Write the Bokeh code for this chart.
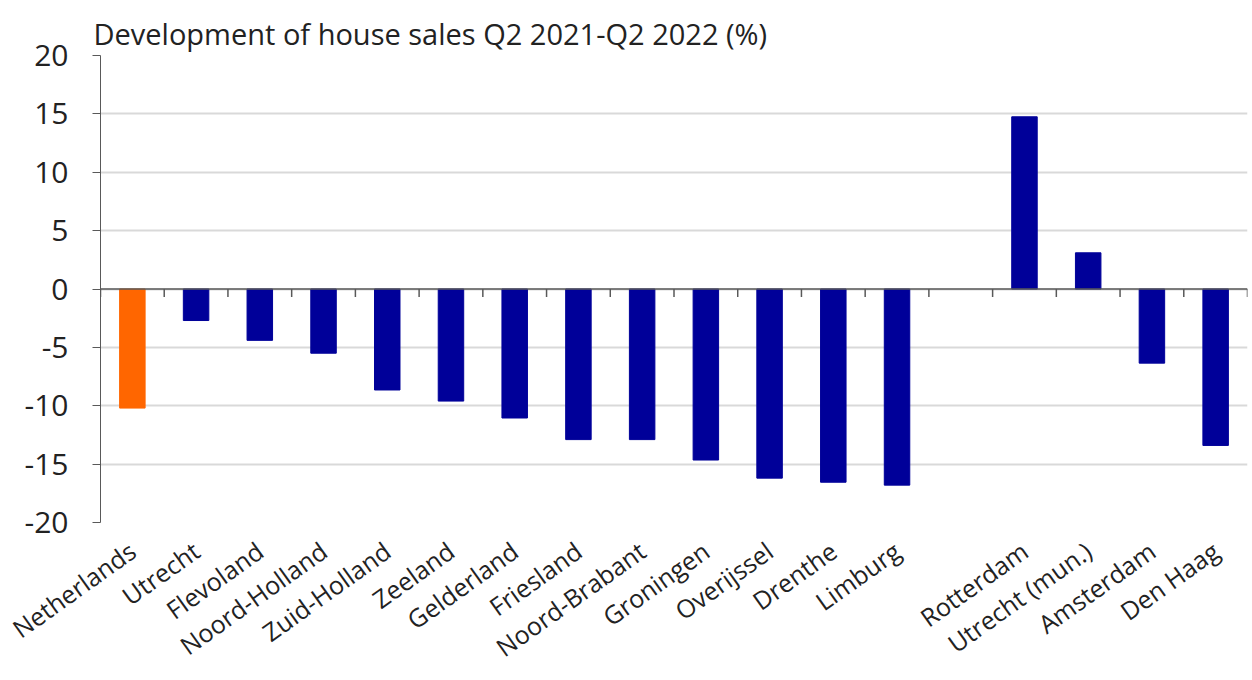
import math
from bokeh.plotting import figure
from bokeh.models import (ColumnDataSource, Range1d, FixedTicker, Span, LinearAxis)
from bokeh.embed import file_html
from bokeh.resources import INLINE

# ---- data ----
provinces = ["Netherlands", "Utrecht", "Flevoland", "Noord-Holland", "Zuid-Holland",
             "Zeeland", "Gelderland", "Friesland", "Noord-Brabant", "Groningen",
             "Overijssel", "Drenthe", "Limburg"]
province_values = [-10.2, -2.7, -4.4, -5.5, -8.65, -9.6, -11.05, -12.9, -12.9, -14.65,
                   -16.2, -16.55, -16.8]
cities = ["Rotterdam", "Utrecht (mun.)", "Amsterdam", "Den Haag"]
city_values = [14.75, 3.1, -6.35, -13.4]
y_ticks = [-20, -15, -10, -5, 0, 5, 10, 15, 20]
title_text = "Development of house sales Q2 2021-Q2 2022 (%)"
highlight = "Netherlands"

# category slots: provinces, one empty gap slot, then cities
slots = provinces + [""] + cities
all_values = province_values + [None] + city_values
names, vals, xs = [], [], []
for i, name in enumerate(slots):
    if name == "":
        continue
    names.append(name)
    xs.append(i + 0.5)
    vals.append(all_values[i])
ORANGE = "#FF6600"
NAVY = "#000099"
colors = [ORANGE if n == highlight else NAVY for n in names]
src = ColumnDataSource(dict(x=xs, top=vals, name=names, color=colors))

FONT = "Open Sans"
AXIS = "#595959"
TEXT = "#222222"

p = figure(width=1250, height=680, output_backend="svg", toolbar_location=None,
           x_range=Range1d(0, len(slots)), y_range=Range1d(-20, 20),
           min_border_left=100, min_border_right=3, min_border_top=55,
           min_border_bottom=158, x_axis_location=None)
p.title.text = title_text
p.title.text_font = FONT
p.title.text_font_size = "29px"
p.title.text_font_style = "normal"
p.title.text_color = TEXT
p.title.offset = -7
p.title.standoff = 6

p.outline_line_color = None
p.xgrid.visible = False
p.ygrid.ticker = FixedTicker(ticks=y_ticks)
p.ygrid.grid_line_color = "#d9d9d9"
p.ygrid.grid_line_width = 2

ya = p.yaxis[0]
ya.ticker = FixedTicker(ticks=y_ticks)
ya.major_label_overrides = {t: str(t) for t in y_ticks}
ya.axis_line_color = AXIS
ya.major_tick_line_color = AXIS
ya.major_tick_in = 0
ya.major_tick_out = 8
ya.minor_tick_line_color = None
ya.major_label_text_font = FONT
ya.major_label_text_font_size = "30px"
ya.major_label_text_color = TEXT
ya.major_label_standoff = 24

# bottom axis with category labels at slot centres
xa = LinearAxis(ticker=FixedTicker(ticks=[i + 0.5 for i in range(len(slots))]),
                major_label_overrides={i + 0.5: s for i, s in enumerate(slots)})
xa.axis_line_color = None
xa.major_tick_line_color = None
xa.major_tick_in = 0
xa.major_tick_out = 6
xa.minor_tick_line_color = None
xa.major_label_orientation = 0.62
xa.major_label_text_font = FONT
xa.major_label_text_font_size = "25px"
xa.major_label_text_color = TEXT
xa.major_label_standoff = 19
p.add_layout(xa, "below")

p.vbar(x="x", top="top", bottom=0, width=0.4, fill_color="color",
       line_color="color", source=src)

# zero line with boundary tick marks
p.add_layout(Span(location=0, dimension="width", line_color=AXIS, line_width=1.5))
p.ray(x=list(range(len(slots) + 1)), y=[0] * (len(slots) + 1), length=8,
      length_units="screen", angle=-math.pi / 2, line_color=AXIS, line_width=1.5)

open("out.html", "w").write(file_html(p, INLINE))
